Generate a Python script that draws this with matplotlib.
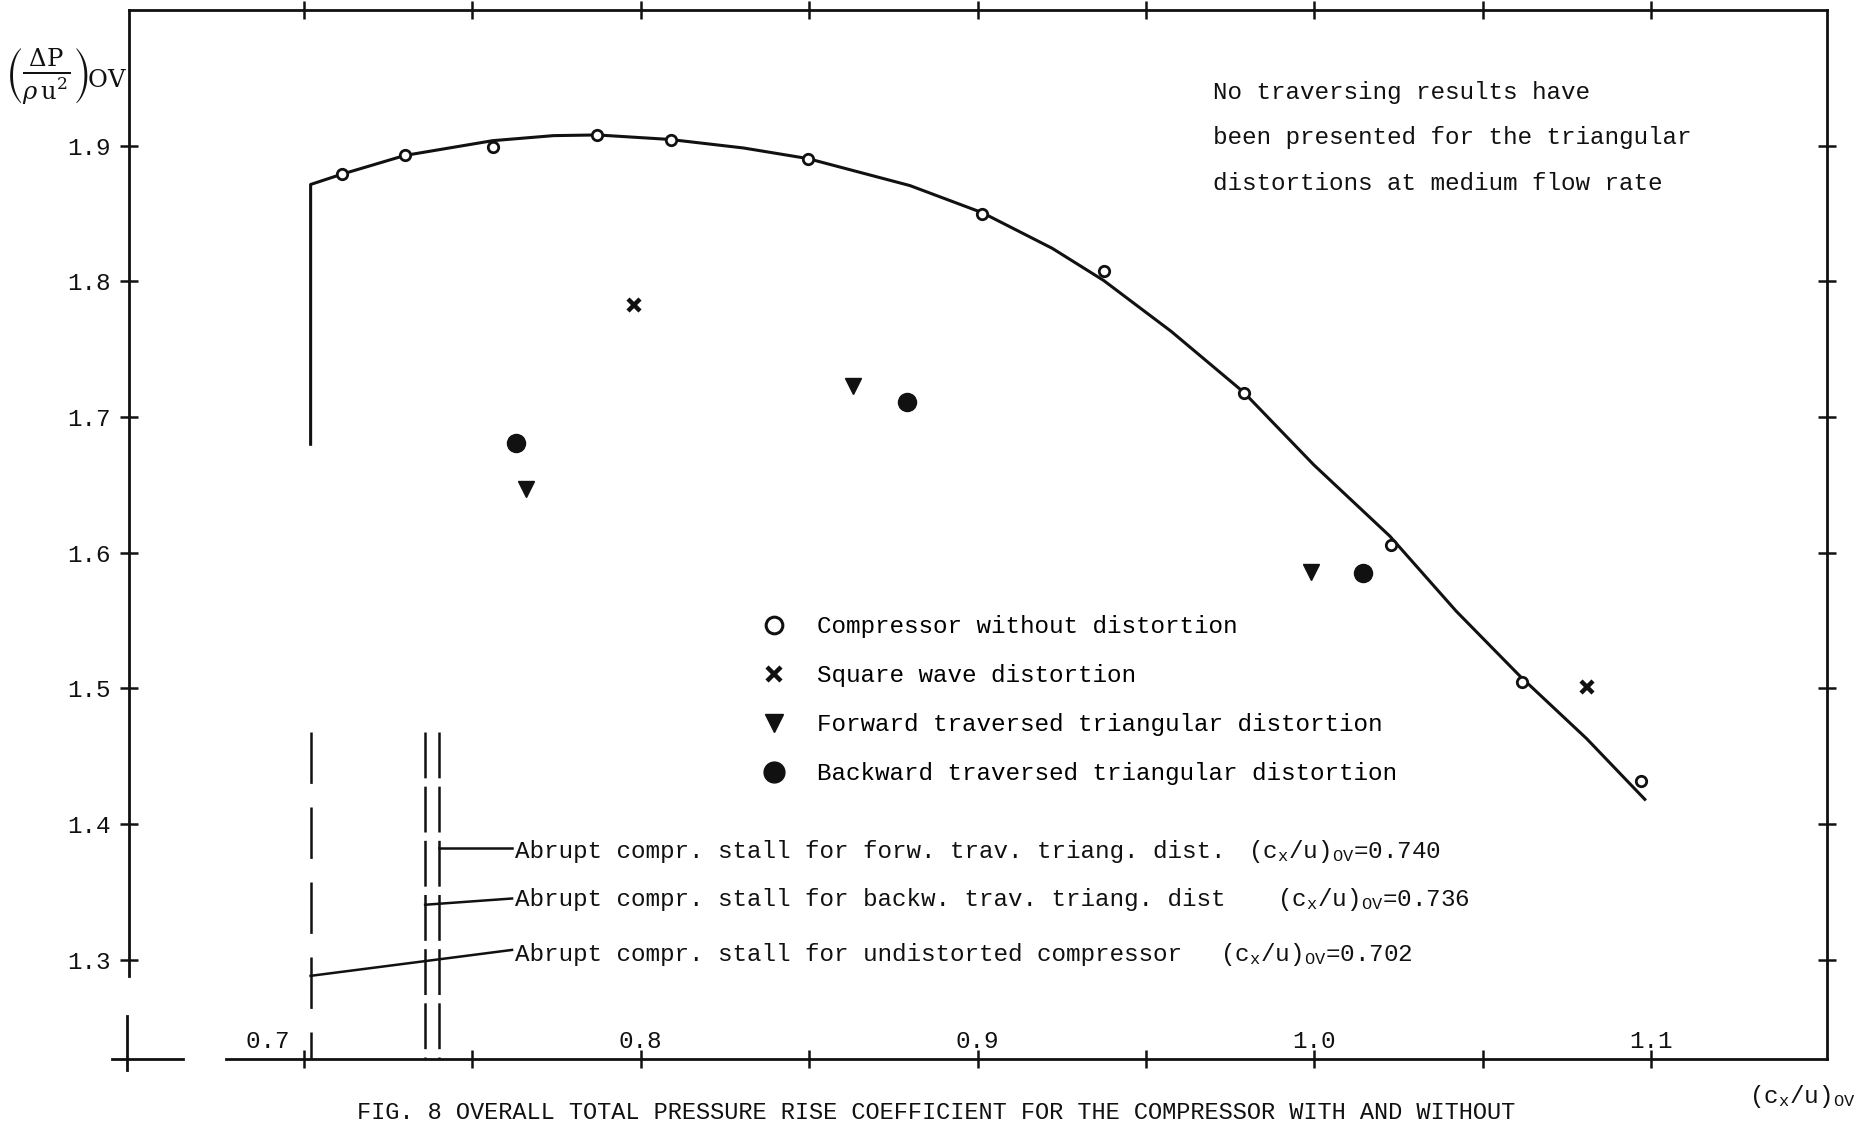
import matplotlib
matplotlib.use("Agg")
import matplotlib.pyplot as plt
from matplotlib.lines import Line2D

# ---------------- data ----------------
flow_plain = [0.7113, 0.7300, 0.7562, 0.7871, 0.8089, 0.8497,
              0.9014, 0.9376, 0.9792, 1.0226, 1.0616, 1.0969]
dp_plain = [1.879, 1.893, 1.899, 1.908, 1.904, 1.890,
            1.850, 1.808, 1.718, 1.606, 1.505, 1.432]

flow_square = [0.798, 1.081]
dp_square = [1.783, 1.501]

flow_forward = [0.766, 0.863, 0.999]
dp_forward = [1.647, 1.723, 1.586]

flow_backward = [0.763, 0.879, 1.0145]
dp_backward = [1.681, 1.7115, 1.585]

# faired characteristic of the undistorted compressor (with stall drop at 0.702)
fair_flow = [0.702, 0.702, 0.7113, 0.730, 0.7561, 0.7741, 0.7871, 0.8086,
             0.8305, 0.8496, 0.8799, 0.9014, 0.9222, 0.9374, 0.9575, 0.979,
             0.9998, 1.0224, 1.0421, 1.0612, 1.0808, 1.0981]
fair_dp = [1.680, 1.8715, 1.8791, 1.8929, 1.9038, 1.9075, 1.908, 1.9047,
           1.8984, 1.8906, 1.8707, 1.8507, 1.8244, 1.8008, 1.7632, 1.7184,
           1.6649, 1.6123, 1.557, 1.5087, 1.4631, 1.4183]

# abrupt stall flow coefficients
stall_flow = [0.740, 0.736, 0.702]
stall_names = ["Abrupt compr. stall for forw. trav. triang. dist.",
               "Abrupt compr. stall for backw. trav. triang. dist",
               "Abrupt compr. stall for undistorted compressor"]
stall_values = ["0.740", "0.736", "0.702"]
leader_start_dp = [1.3824, 1.3406, 1.2882]
leader_end_dp = [1.3824, 1.3452, 1.3073]
stall_top_dp = 1.468

legend_labels = ["Compressor without distortion",
                 "Square wave distortion",
                 "Forward traversed triangular distortion",
                 "Backward traversed triangular distortion"]

note_lines = ["No traversing results have",
              "been presented for the triangular",
              "distortions at medium flow rate"]

x_major = [0.7, 0.8, 0.9, 1.0, 1.1]
x_major_labels = ["0.7 ", "0.8", "0.9", "1.0", "1.1"]
x_minor = [0.75, 0.85, 0.95, 1.05]
y_major = [1.3, 1.4, 1.5, 1.6, 1.7, 1.8, 1.9]
y_major_labels = ["1.3", "1.4", "1.5", "1.6", "1.7", "1.8", "1.9"]

caption = ("FIG. 8 OVERALL TOTAL PRESSURE RISE COEFFICIENT FOR THE "
           "COMPRESSOR WITH AND WITHOUT")

# ---------------- style ----------------
plt.rcParams["font.family"] = ["Liberation Mono", "DejaVu Sans"]
plt.rcParams["mathtext.fontset"] = "custom"
plt.rcParams["mathtext.rm"] = "Liberation Mono"
plt.rcParams["mathtext.it"] = "Liberation Mono:italic"
plt.rcParams["mathtext.bf"] = "Liberation Mono:bold"
plt.rcParams["lines.scale_dashes"] = False

FS = 17.5
INK = "#111111"

fig = plt.figure(figsize=(18.76, 11.26), dpi=100)
ax = fig.add_axes([0.0688, 0.0595, 0.9051, 0.9315])
ax.set_xlim(0.6481, 1.1522)
ax.set_ylim(1.2269, 2.0)

for s in ax.spines.values():
    s.set_linewidth(2.0)
    s.set_color(INK)
ax.spines["left"].set_bounds(1.288, 2.0)
ax.spines["bottom"].set_bounds(0.677, 1.1522)

# small cross at the origin corner (scan decoration)
ax.plot([0.6430, 0.6640], [1.2269, 1.2269], color=INK, lw=2.0, clip_on=False)
ax.plot([0.6475, 0.6475], [1.2585, 1.2185], color=INK, lw=2.0, clip_on=False)

# ---------------- ticks ----------------
ax.set_xticks(x_major, labels=x_major_labels)
ax.set_xticks(x_minor, minor=True)
ax.set_yticks(y_major, labels=y_major_labels)
ax.tick_params(axis="x", which="both", direction="inout", length=13, width=1.8,
               top=True, bottom=True, colors=INK, labelsize=FS, pad=-10.5)
ax.tick_params(axis="y", which="both", direction="inout", length=13, width=1.8,
               left=True, right=True, colors=INK, labelsize=FS, pad=7)
for i, lab in enumerate(ax.get_xticklabels()):
    lab.set_verticalalignment("bottom")
    if i == 0:
        lab.set_horizontalalignment("right")

# ---------------- data marks ----------------
ax.plot(fair_flow, fair_dp, color=INK, lw=2.2, solid_joinstyle="round")
ax.plot(flow_plain, dp_plain, ls="none", marker="o", ms=7.5, mfc="white",
        mec=INK, mew=2.0, zorder=3)
ax.plot(flow_square, dp_square, ls="none", marker="x", ms=9, mew=3.2,
        color=INK, zorder=3)
ax.plot(flow_forward, dp_forward, ls="none", marker="v", ms=12, color=INK,
        zorder=3)
ax.plot(flow_backward, dp_backward, ls="none", marker="o", ms=13, color=INK,
        zorder=3)

# stall lines
dash_styles = [(0, (33, 6)), (0, (33, 6)), (0, (37, 17))]
for xs, dsh in zip(stall_flow, dash_styles):
    ax.plot([xs, xs], [stall_top_dp, 1.2269], color=INK, lw=1.8, ls=dsh)

text_x = 0.7628
base_y = [1.3752, 1.3400, 1.2994]
formula_x = [0.9804, 0.9889, 0.9720]
for xs, y0, y1, name, val, by, fx in zip(stall_flow, leader_start_dp,
                                           leader_end_dp, stall_names,
                                           stall_values, base_y, formula_x):
    ax.plot([xs, text_x - 0.001], [y0, y1], color=INK, lw=1.8)
    ax.text(text_x, by, name, fontsize=FS, ha="left", va="baseline", color=INK)
    ax.text(fx, by, r"$\mathrm{(c_x/u)_{OV}}$=" + val, fontsize=FS,
            ha="left", va="baseline", color=INK, math_fontfamily="custom")

# ---------------- legend ----------------
handles = [
    Line2D([], [], ls="none", marker="o", ms=12, mfc="white", mec=INK, mew=2.2),
    Line2D([], [], ls="none", marker="x", ms=10, mew=3.2, color=INK),
    Line2D([], [], ls="none", marker="v", ms=13, color=INK),
    Line2D([], [], ls="none", marker="o", ms=15, color=INK),
]
ax.legend(handles, legend_labels, loc="upper left",
          bbox_to_anchor=(0.3728, 0.423), frameon=False, fontsize=FS,
          handlelength=1.0, handletextpad=1.25, labelspacing=1.07,
          borderpad=0.0, borderaxespad=0.0)

# ---------------- note ----------------
for k, line in enumerate(note_lines):
    ax.text(0.9698, 1.9395 - 0.0335 * k, line, fontsize=FS, ha="left",
            va="center", color=INK)

# ---------------- axis labels ----------------
ax.set_ylabel(r"$\left(\frac{\mathrm{\Delta P}}{\rho\,\mathrm{u}^{2}}\right)_{\!\mathrm{OV}}$",
              rotation=0, fontsize=25, ha="center", va="center",
              math_fontfamily="dejavuserif", color=INK)
ax.yaxis.set_label_coords(-0.037, 0.936)
ax.set_xlabel(r"$\mathrm{(c_x/u)_{OV}}$", fontsize=FS, ha="left",
              va="center", math_fontfamily="custom", color=INK)
ax.xaxis.set_label_coords(0.954, -0.036)

fig.text(0.499, 0.002, caption, fontsize=17, ha="center",
         va="bottom", color=INK)

fig.savefig("out.png", dpi=100)
